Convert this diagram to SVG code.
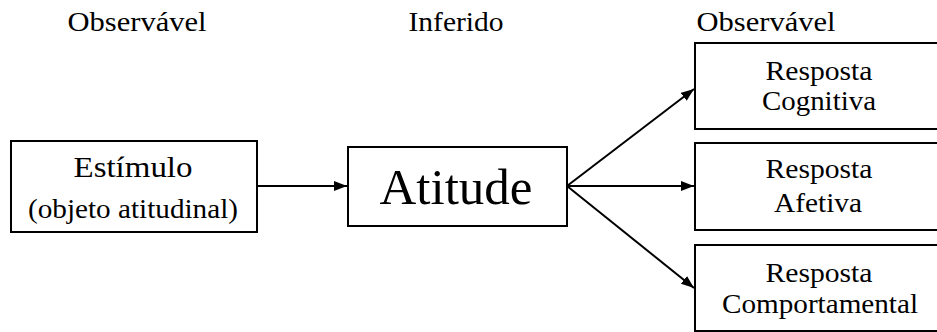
<svg xmlns="http://www.w3.org/2000/svg" width="937" height="332" viewBox="0 0 937 332">
  <style>
    text { font-family: "Liberation Serif", "Times New Roman", serif; fill: #000; text-anchor: middle; }
    .hdr { font-size: 27px; }
    .lbl { font-size: 28px; }
    .lg { font-size: 30px; }
    .big { font-size: 51px; }
    .box { fill: #fff; stroke: #000; stroke-width: 2; }
    .edge { stroke: #000; stroke-width: 2; fill: none; marker-end: url(#arrow); }
  </style>
  <defs>
    <marker id="arrow" markerWidth="13" markerHeight="10" refX="13" refY="5" orient="auto" markerUnits="userSpaceOnUse">
      <path d="M0,0 L13,5 L0,10 Z" fill="#000"/>
    </marker>
  </defs>
  <rect width="937" height="332" fill="#fff"/>

  <!-- column headings -->
  <g id="headings">
    <text class="hdr" x="137" y="31" textLength="139" lengthAdjust="spacingAndGlyphs">Observável</text>
    <text class="hdr" x="456" y="31" textLength="95" lengthAdjust="spacingAndGlyphs">Inferido</text>
    <text class="hdr" x="766" y="31" textLength="139" lengthAdjust="spacingAndGlyphs">Observável</text>
  </g>

  <!-- connectors -->
  <g id="connectors">
    <line class="edge" x1="257" y1="186" x2="347" y2="186"/>
    <line class="edge" x1="567" y1="186" x2="694" y2="89"/>
    <line class="edge" x1="567" y1="186" x2="694" y2="186"/>
    <line class="edge" x1="567" y1="186" x2="694" y2="288"/>
  </g>

  <g id="estimulo">
    <rect class="box" x="11" y="141" width="246" height="91"/>
    <text class="lg" x="133" y="177" textLength="119" lengthAdjust="spacingAndGlyphs">Estímulo</text>
    <text class="lbl" x="133" y="218" textLength="210" lengthAdjust="spacingAndGlyphs">(objeto atitudinal)</text>
  </g>

  <g id="atitude">
    <rect class="box" x="348" y="147" width="219" height="79"/>
    <text class="big" x="456" y="204" textLength="153" lengthAdjust="spacingAndGlyphs">Atitude</text>
  </g>

  <g id="cognitiva">
    <rect class="box" x="695" y="43" width="252" height="86"/>
    <text class="lbl" x="819" y="80" textLength="107" lengthAdjust="spacingAndGlyphs">Resposta</text>
    <text class="lbl" x="819" y="110" textLength="114" lengthAdjust="spacingAndGlyphs">Cognitiva</text>
  </g>

  <g id="afetiva">
    <rect class="box" x="695" y="143" width="252" height="87"/>
    <text class="lbl" x="819" y="178" textLength="107" lengthAdjust="spacingAndGlyphs">Resposta</text>
    <text class="lbl" x="818" y="212" textLength="88" lengthAdjust="spacingAndGlyphs">Afetiva</text>
  </g>

  <g id="comportamental">
    <rect class="box" x="695" y="245" width="252" height="86"/>
    <text class="lbl" x="819" y="282" textLength="107" lengthAdjust="spacingAndGlyphs">Resposta</text>
    <text class="lbl" x="820" y="313" textLength="196" lengthAdjust="spacingAndGlyphs">Comportamental</text>
  </g>
</svg>
